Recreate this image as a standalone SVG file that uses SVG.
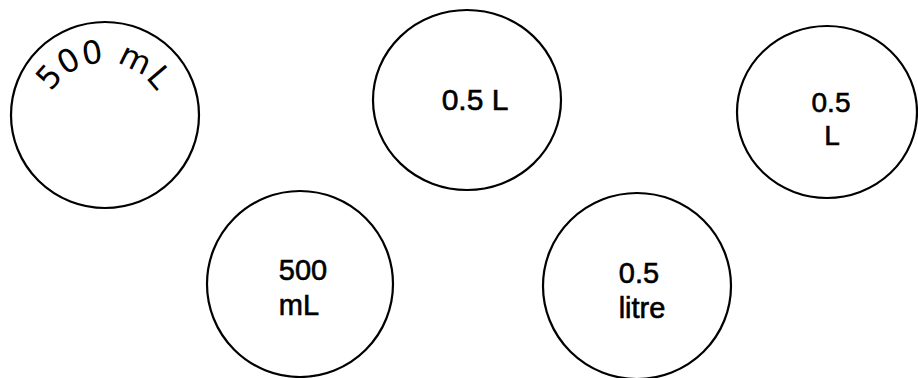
<svg xmlns="http://www.w3.org/2000/svg" width="918" height="378" viewBox="0 0 918 378">
<style>
.c{fill:none;stroke:#000;stroke-width:2.2}
.t{font-family:"Liberation Sans",Arial,sans-serif;fill:#000;stroke:#000;stroke-width:0.6;text-anchor:middle}
.arc{font-family:"DejaVu Sans",sans-serif;font-size:32px;fill:#000;letter-spacing:1px}
</style>
<defs>
<path id="p1" d="M 42.9 114.2 A 62 62 0 0 1 165.1 114.2"/>
</defs>
<rect width="918" height="378" fill="#fff"/>
<g id="n1">
<ellipse class="c" cx="105" cy="115" rx="94" ry="93"/>
<text class="arc"><textPath href="#p1" startOffset="50%" text-anchor="middle">500 mL</textPath></text>
</g>
<g id="n2">
<ellipse class="c" cx="467" cy="100" rx="94" ry="90"/>
<text class="t" x="475" y="110" font-size="30">0.5 L</text>
</g>
<g id="n3">
<ellipse class="c" cx="827" cy="112" rx="90" ry="86"/>
<text class="t" x="831" y="112" font-size="28">0.5</text>
<text class="t" x="832" y="145" font-size="28">L</text>
</g>
<g id="n4">
<ellipse class="c" cx="300" cy="284" rx="93" ry="93"/>
<text class="t" x="303" y="280" font-size="29">500</text>
<text class="t" x="299" y="315" font-size="29">mL</text>
</g>
<g id="n5">
<ellipse class="c" cx="637" cy="286" rx="94" ry="93"/>
<text class="t" x="639" y="283" font-size="29">0.5</text>
<text class="t" x="642" y="318" font-size="29" stroke-width="1">litre</text>
</g>
<g id="connectors"/>
</svg>
